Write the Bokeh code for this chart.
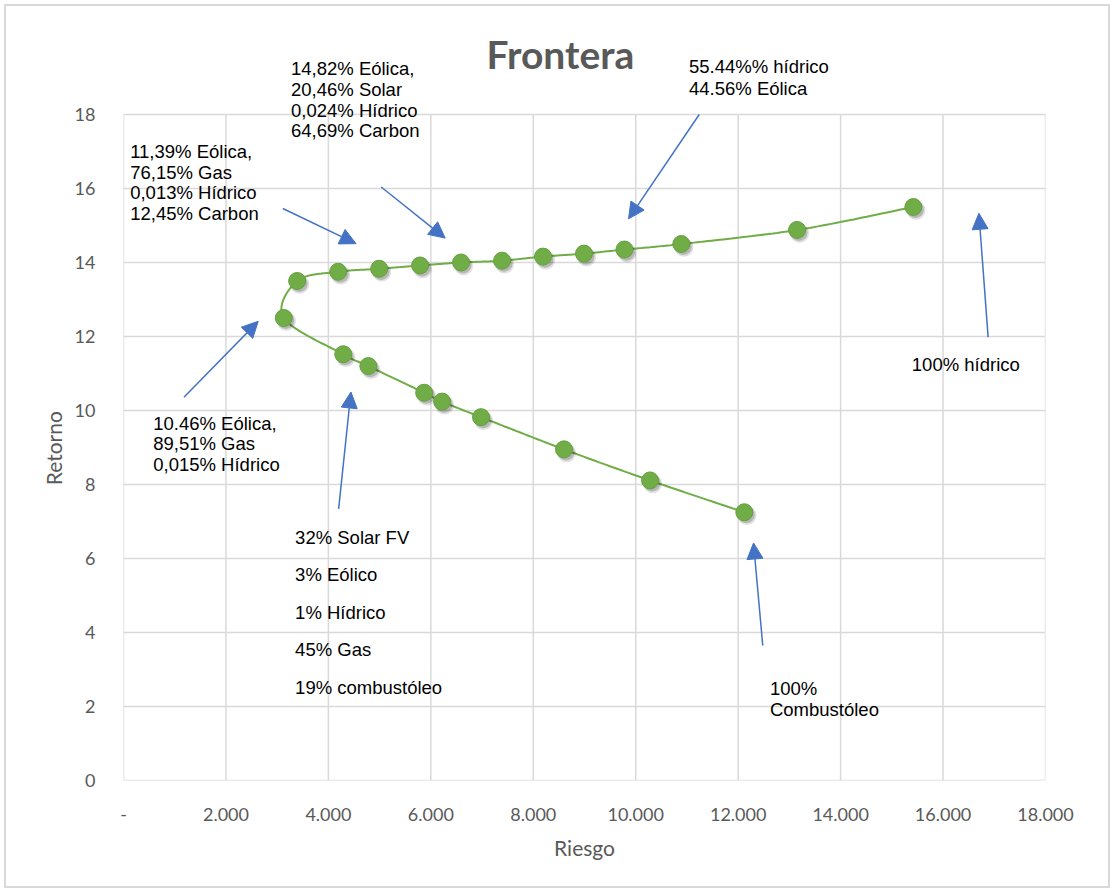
import numpy as np
from bokeh.plotting import figure
from bokeh.models import (ColumnDataSource, FixedTicker, Label, Arrow,
                          NormalHead)
from bokeh.transform import dodge
from bokeh.embed import file_html
from bokeh.resources import INLINE

# Efficient frontier: risk (x) and return (y) of each portfolio, in path order
riesgo = [15.42, 13.15, 10.89, 9.78, 8.99, 8.19, 7.39, 6.59, 5.79, 4.99, 4.19,
          3.39, 3.13, 4.29, 4.78, 5.87, 6.22, 6.98, 8.60, 10.28, 12.12]
retorno = [15.50, 14.88, 14.50, 14.35, 14.24, 14.16, 14.05, 14.00, 13.92, 13.83,
           13.75, 13.50, 12.50, 11.52, 11.20, 10.48, 10.24, 9.82, 8.95, 8.11, 7.25]

x_ticks = [0, 2, 4, 6, 8, 10, 12, 14, 16, 18]
x_tick_labels = ["-", "2.000", "4.000", "6.000", "8.000", "10.000", "12.000",
                 "14.000", "16.000", "18.000"]
y_ticks = [0, 2, 4, 6, 8, 10, 12, 14, 16, 18]

# Portfolio composition notes
notas = [
    ["14,82% Eólica,", "20,46% Solar", "0,024% Hídrico", "64,69% Carbon"],
    ["55.44%% hídrico", "44.56% Eólica"],
    ["11,39% Eólica,", "76,15% Gas", "0,013% Hídrico", "12,45% Carbon"],
    ["10.46% Eólica,", "89,51% Gas", "0,015% Hídrico"],
    ["32% Solar FV", "3% Eólico", "1% Hídrico", "45% Gas", "19% combustóleo"],
    ["100%", "Combustóleo"],
    ["100% hídrico"],
]

# Placement of each note: left x, first baseline y, line step (data units)
nota_pos = [
    (3.27, 19.24, 0.56),
    (11.04, 19.29, 0.59),
    (0.13, 17.00, 0.555),
    (0.58, 9.65, 0.555),
    (3.35, 6.57, 1.013),
    (12.62, 2.48, 0.56),
    (15.39, 11.24, 0.0),
]

# Arrows pointing from the notes to the curve: (x_start, y_start, x_end, y_end)
flechas = [
    (5.03, 16.04, 6.28, 14.66),
    (11.24, 18.00, 9.86, 15.18),
    (3.11, 15.46, 4.54, 14.51),
    (1.18, 10.36, 2.63, 12.41),
    (4.20, 7.34, 4.44, 10.50),
    (12.48, 3.65, 12.30, 6.42),
    (16.88, 11.98, 16.70, 15.33),
]


def smooth_path(xs, ys, n=30):
    """Cubic Bezier (Catmull-Rom) curve through the given points."""
    pts = np.column_stack([xs, ys]).astype(float)
    segs = []
    last = len(pts) - 2
    for i in range(len(pts) - 1):
        p0 = pts[i - 1] if i > 0 else pts[i]
        p1, p2 = pts[i], pts[i + 1]
        p3 = pts[i + 2] if i + 2 < len(pts) else pts[i + 1]
        c1 = p1 + (p2 - p0) / 6.0
        c2 = p2 - (p3 - p1) / 6.0
        t = np.linspace(0, 1, n, endpoint=(i == last))[:, None]
        seg = ((1 - t) ** 3) * p1 + 3 * ((1 - t) ** 2) * t * c1 \
            + 3 * (1 - t) * (t ** 2) * c2 + (t ** 3) * p2
        segs.append(seg)
    path = np.vstack(segs)
    return path[:, 0], path[:, 1]


GRAY = "#595959"
GRID = "#D9D9D9"
GREEN = "#70AD47"
BLUE = "#4472C4"

# The frame reaches the top of the canvas so the notes above the grid show
p = figure(width=1114, height=892, output_backend="svg", toolbar_location=None,
           x_range=(0, 18), y_range=(0, 780 / 37),
           min_border_left=123, min_border_right=69,
           min_border_top=0, min_border_bottom=112)
p.title.text = ""
# Transparent canvas so the host's outline (chart-area border) shows through
p.background_fill_color = None
p.border_fill_color = None
p.outline_line_color = None
p.styles = {"outline": "2px solid #D9D9D9", "outline-offset": "-6px",
            "background-color": "white"}

for ax in (p.xaxis, p.yaxis):
    ax.axis_line_color = None
    ax.major_tick_line_color = None
    ax.minor_tick_line_color = None
    ax.major_label_text_color = GRAY
    ax.major_label_text_font = "Lato"
    ax.major_label_text_font_size = "18px"
    ax.axis_label_text_color = GRAY
    ax.axis_label_text_font = "Lato"
    ax.axis_label_text_font_size = "21px"
    ax.axis_label_text_font_style = "normal"

p.xaxis.ticker = FixedTicker(ticks=x_ticks)
p.xaxis.major_label_overrides = {t: s for t, s in zip(x_ticks, x_tick_labels)}
p.yaxis.ticker = FixedTicker(ticks=y_ticks)
p.xaxis.axis_label = "Riesgo"
# trailing en spaces keep the rotated label centred on the 0-18 span
p.yaxis.axis_label = "Retorno" + "\u2002" * 11
p.xaxis.major_label_standoff = 21
p.xaxis.axis_label_standoff = 11
p.yaxis.major_label_standoff = 22
p.yaxis.axis_label_standoff = 6

# Grid limited to the 0-18 data box
p.xgrid.grid_line_color = None
p.ygrid.grid_line_color = None
n_t = len(x_ticks)
p.segment(x0=x_ticks, y0=[y_ticks[0]] * n_t, x1=x_ticks, y1=[y_ticks[-1]] * n_t,
          line_color=GRID, line_width=1.5)
p.segment(x0=[x_ticks[0]] * len(y_ticks), y0=y_ticks,
          x1=[x_ticks[-1]] * len(y_ticks), y1=y_ticks,
          line_color=GRID, line_width=1.5)

# Smoothed frontier line
sx, sy = smooth_path(riesgo, retorno)
p.line(sx, sy, line_color=GREEN, line_width=2)

# Markers with a soft drop shadow
src = ColumnDataSource(dict(x=riesgo, y=retorno))
p.scatter(x=dodge("x", 0.05, range=p.x_range), y=dodge("y", -0.09, range=p.y_range),
          source=src, size=19, fill_color="black", fill_alpha=0.12, line_color=None)
p.scatter(x=dodge("x", 0.04, range=p.x_range), y=dodge("y", -0.07, range=p.y_range),
          source=src, size=17, fill_color="black", fill_alpha=0.18, line_color=None)
p.scatter(x="x", y="y", source=src, size=17, fill_color=GREEN,
          line_color="#67A040", line_width=1)

# Arrows
for xs, ys, xe, ye in flechas:
    p.add_layout(Arrow(x_start=xs, y_start=ys, x_end=xe, y_end=ye,
                       line_color=BLUE, line_width=1.5,
                       end=NormalHead(size=16, fill_color=BLUE, line_color=BLUE)))

# Notes
for lines, (x0, y0, step) in zip(notas, nota_pos):
    for k, txt in enumerate(lines):
        p.add_layout(Label(x=x0, y=y0 - k * step, text=txt,
                           text_font="Liberation Sans", text_font_size="18.5px",
                           text_color="black", text_baseline="alphabetic",
                           text_align="left"))

# Title
p.add_layout(Label(x=8.53, y=19.63, text="Frontera", text_font="Lato",
                   text_font_size="39px", text_font_style="bold",
                   text_color=GRAY, text_align="center",
                   text_baseline="alphabetic"))

open("out.html", "w").write(file_html(p, INLINE))
